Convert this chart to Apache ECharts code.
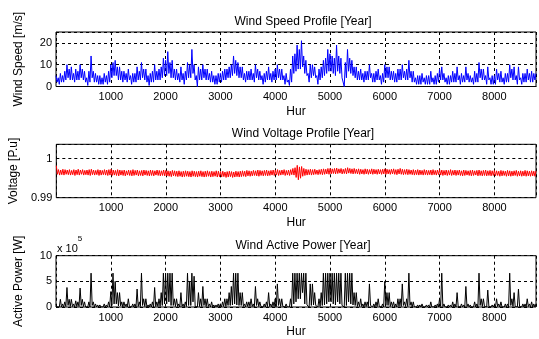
<!DOCTYPE html>
<html>
<head>
<meta charset="utf-8">
<script src="https://cdn.jsdelivr.net/npm/echarts@6/dist/echarts.min.js"></script>
<style>
  html, body { margin: 0; padding: 0; background: #fff; }
  #chart { width: 539px; height: 339px; }
</style>
</head>
<body>
<div id="chart"></div>
<script>
// envelope: one high and one low value per 40-hour bin, 0..8760 h
const STEP = 40;

const speedHigh = [
  5,4,6,5,7,10,8,9,6,8,7,10,8,7,4,7,14,7,6,5,5,4,6,5,7,
  10,11,12,9,9,7,7,6,8,5,6,6,9,7,11,8,8,5,6,7,10,7,8,9,13,
  12,16,11,12,8,8,6,9,6,7,11,10,17,10,5,9,8,10,8,8,6,7,5,5,6,
  6,7,8,8,9,10,14,12,11,9,9,6,7,7,8,6,10,8,7,5,6,7,9,6,7,
  8,10,8,8,5,6,3,8,14,15,19,17,21,14,12,6,10,10,9,5,8,9,12,13,17,
  15,14,13,19,14,13,4,11,17,13,12,9,9,7,8,6,7,7,10,6,6,7,8,5,6,
  10,9,9,7,7,6,8,8,10,7,8,12,7,7,4,5,5,6,4,5,5,7,4,5,6,
  8,9,6,4,5,5,7,6,9,5,6,5,9,6,5,4,7,6,11,8,8,5,9,4,5,
  5,8,6,7,4,6,6,10,8,9,5,9,4,6,6,8,6,7,6,6
];
const speedLow = [
  2,1,2,2,3,4,3,3,2,3,3,4,3,2,0.5,2,4,2,2,1,1,1,2,1,2,
  4,5,5,3,3,2,3,2,3,1,2,2,3,3,4,3,2,0.5,2,2,3,3,3,4,5,
  5,6,4,4,3,3,2,3,1,3,4,4,6,3,0,3,3,4,3,3,2,2,1,1,2,
  2,3,3,4,4,5,6,5,4,4,3,2,3,3,3,2,4,3,3,1,2,3,3,2,3,
  3,4,3,3,1,2,0.5,2,6,7,8,8,9,6,5,2,4,5,4,1,3,4,5,6,7,
  7,6,5,7,6,4,0,4,7,6,5,4,3,3,3,2,3,3,4,2,2,3,3,1,2,
  4,4,3,3,2,2,3,3,4,3,3,4,2,2,1,1,1,2,1,1,1,2,1,1,2,
  3,3,2,1,1,2,2,2,3,1,2,2,3,2,2,1,2,2,4,3,3,1,3,1,1,
  1,3,2,2,1,2,2,4,3,3,1,3,1,2,2,3,2,2,3,3
];

const voltHigh = [
  0.9982,0.9972,0.9971,0.9973,0.9972,0.9971,0.9972,0.9970,0.9972,0.9971,0.9973,0.9971,0.9972,0.9970,0.9971,0.9972,0.9973,0.9971,0.9970,0.9972,0.9971,0.9970,0.9972,0.9971,0.9972,
  0.9973,0.9971,0.9970,0.9972,0.9971,0.9970,0.9971,0.9969,0.9971,0.9970,0.9972,0.9970,0.9971,0.9969,0.9970,0.9971,0.9970,0.9969,0.9971,0.9970,0.9969,0.9971,0.9970,0.9969,0.9971,
  0.9970,0.9969,0.9968,0.9970,0.9969,0.9968,0.9969,0.9967,0.9968,0.9969,0.9968,0.9967,0.9969,0.9968,0.9967,0.9968,0.9969,0.9967,0.9968,0.9969,0.9967,0.9968,0.9967,0.9969,0.9968,
  0.9967,0.9968,0.9966,0.9967,0.9968,0.9967,0.9966,0.9968,0.9967,0.9968,0.9969,0.9968,0.9970,0.9969,0.9968,0.9970,0.9969,0.9971,0.9970,0.9969,0.9970,0.9971,0.9969,0.9970,0.9971,
  0.9971,0.9972,0.9970,0.9971,0.9972,0.9970,0.9971,0.9972,0.9975,0.9977,0.9983,0.9979,0.9980,0.9975,0.9973,0.9972,0.9973,0.9972,0.9973,0.9971,0.9972,0.9973,0.9974,0.9973,0.9975,
  0.9975,0.9974,0.9975,0.9976,0.9974,0.9975,0.9973,0.9975,0.9977,0.9975,0.9974,0.9975,0.9973,0.9974,0.9973,0.9972,0.9974,0.9973,0.9972,0.9974,0.9973,0.9972,0.9973,0.9972,0.9973,
  0.9974,0.9973,0.9972,0.9973,0.9974,0.9972,0.9973,0.9975,0.9973,0.9972,0.9973,0.9972,0.9971,0.9972,0.9971,0.9972,0.9971,0.9970,0.9972,0.9971,0.9970,0.9971,0.9972,0.9970,0.9971,
  0.9972,0.9971,0.9970,0.9971,0.9970,0.9972,0.9970,0.9971,0.9970,0.9971,0.9969,0.9971,0.9970,0.9969,0.9970,0.9971,0.9969,0.9970,0.9971,0.9969,0.9970,0.9971,0.9969,0.9970,0.9969,
  0.9970,0.9969,0.9968,0.9970,0.9969,0.9968,0.9970,0.9969,0.9968,0.9969,0.9970,0.9968,0.9969,0.9968,0.9970,0.9969,0.9968,0.9969,0.9968,0.9969
];
const voltLow = [
  0.9960,0.9958,0.9959,0.9958,0.9960,0.9959,0.9958,0.9959,0.9957,0.9959,0.9958,0.9960,0.9958,0.9959,0.9958,0.9957,0.9959,0.9958,0.9959,0.9957,0.9958,0.9959,0.9958,0.9957,0.9958,
  0.9957,0.9958,0.9957,0.9956,0.9958,0.9957,0.9956,0.9958,0.9957,0.9956,0.9957,0.9958,0.9956,0.9957,0.9956,0.9958,0.9957,0.9956,0.9957,0.9956,0.9958,0.9957,0.9956,0.9957,0.9956,
  0.9956,0.9955,0.9954,0.9956,0.9955,0.9954,0.9955,0.9953,0.9954,0.9955,0.9954,0.9953,0.9955,0.9954,0.9953,0.9955,0.9954,0.9953,0.9954,0.9955,0.9953,0.9954,0.9955,0.9953,0.9954,
  0.9953,0.9954,0.9952,0.9953,0.9954,0.9952,0.9953,0.9954,0.9953,0.9954,0.9955,0.9954,0.9956,0.9955,0.9956,0.9957,0.9956,0.9955,0.9957,0.9956,0.9957,0.9956,0.9957,0.9958,0.9957,
  0.9958,0.9957,0.9958,0.9959,0.9957,0.9958,0.9957,0.9959,0.9958,0.9952,0.9946,0.9950,0.9955,0.9957,0.9958,0.9959,0.9958,0.9959,0.9960,0.9959,0.9960,0.9959,0.9960,0.9961,0.9960,
  0.9961,0.9962,0.9961,0.9962,0.9963,0.9961,0.9962,0.9961,0.9963,0.9962,0.9961,0.9962,0.9961,0.9960,0.9961,0.9960,0.9961,0.9960,0.9961,0.9960,0.9961,0.9960,0.9961,0.9960,0.9961,
  0.9960,0.9961,0.9960,0.9961,0.9960,0.9959,0.9961,0.9960,0.9959,0.9960,0.9959,0.9960,0.9959,0.9958,0.9959,0.9958,0.9959,0.9958,0.9959,0.9958,0.9959,0.9958,0.9959,0.9958,0.9959,
  0.9958,0.9957,0.9958,0.9957,0.9958,0.9957,0.9958,0.9957,0.9958,0.9957,0.9956,0.9957,0.9958,0.9957,0.9956,0.9957,0.9958,0.9956,0.9957,0.9956,0.9957,0.9956,0.9957,0.9956,0.9957,
  0.9956,0.9957,0.9955,0.9956,0.9957,0.9955,0.9956,0.9955,0.9956,0.9957,0.9955,0.9956,0.9955,0.9956,0.9955,0.9956,0.9955,0.9956,0.9955,0.9956
];

// active power in units of 1e5 W
const powerHigh = [
  0.5,0.3,1.5,0.6,1,3.8,1.5,1.5,0.6,1.2,1,3.7,1.5,1,0.2,1,6.6,1,0.6,0.4,0.4,0.3,0.6,0.4,1,
  3,6.6,5,2.8,2.8,1,1,0.6,1.6,0.4,0.6,0.6,3.5,1,6.6,1.6,1.6,0.4,0.6,1,3.8,1,1.6,2.8,6.6,
  6.6,6.6,6.6,6.6,1.6,1.6,0.6,2.8,0.6,1,6.6,5,6.6,6,0.4,2.8,1.6,4,1.6,1.6,0.6,1,0.4,0.4,0.6,
  0.6,1,1.6,1.6,2.8,4,6.6,6.6,6.6,2.8,2.8,0.6,1,1,1.6,0.6,4,1.6,1,0.4,0.6,1,2.8,0.6,1,
  1.6,4.5,1.6,1.6,0.4,0.6,0.1,1.6,6.6,6.6,6.6,6.6,6.6,6.6,6.6,0.6,4.5,4.5,2.8,0.4,1.6,2.8,6.6,6.6,6.6,
  6.6,6.6,6.6,6.6,6.6,6.6,0.3,6.6,6.6,6.6,6.6,2.8,2.8,1,1.6,0.6,1,1,4.5,0.6,0.6,1,1.6,0.4,0.6,
  5,2.8,2.8,1,1,0.6,1.6,1.6,4.5,1,1.6,6.6,1,1,0.3,0.4,0.4,0.6,0.3,0.4,0.4,1,0.3,0.4,0.6,
  1.6,6.6,0.6,0.3,0.4,0.4,1,0.6,2.8,0.4,0.6,0.4,4,0.6,0.4,0.3,1,0.6,6.6,1.6,1.6,0.4,3.3,0.3,0.4,
  0.4,1.6,0.6,1,0.3,0.6,0.6,6.6,1.6,2.8,0.4,3.5,0.3,0.6,0.6,1.6,0.6,1,0.6,0.6
];
const powerLow = [
  0,0,0,0,0.1,0.3,0.1,0.1,0,0.1,0.1,0.3,0.1,0,0,0,0.3,0,0,0,0,0,0,0,0,
  0.3,0.6,0.6,0.2,0.2,0,0.1,0,0.1,0,0,0,0.1,0.1,0.3,0.1,0,0,0,0,0.1,0.1,0.1,0.3,0.6,
  0.6,1,0.3,0.3,0.1,0.1,0,0.1,0,0.1,0.3,0.3,1,0.1,0,0.1,0.1,0.3,0.1,0.1,0,0,0,0,0,
  0,0.1,0.1,0.3,0.3,0.4,0.6,0.4,0.3,0.3,0.1,0,0.1,0.1,0.1,0,0.3,0.1,0.1,0,0,0.1,0.1,0,0.1,
  0.1,0.3,0.1,0.1,0,0,0,0,0.6,1,1.6,1.6,2.8,0.6,0.4,0,0.3,0.4,0.3,0,0.1,0.3,0.4,0.6,1,
  1,0.6,0.4,1,0.6,0.3,0,0.3,1,0.6,0.4,0.3,0.1,0.1,0.1,0,0.1,0.1,0.3,0,0,0.1,0.1,0,0,
  0.3,0.3,0.1,0.1,0,0,0.1,0.1,0.3,0.1,0.1,0.3,0,0,0,0,0,0,0,0,0,0,0,0,0,
  0.1,0.1,0,0,0,0,0,0,0.1,0,0,0,0.1,0,0,0,0,0,0.3,0.1,0.1,0,0.1,0,0,
  0,0.1,0,0,0,0,0,0.3,0.1,0.1,0,0.1,0,0,0,0.1,0,0,0,0
];

const titles = ['Wind Speed Profile [Year]', 'Wind Voltage Profile [Year]', 'Wind Active Power [Year]'];
const yNames = ['Wind Speed [m/s]', 'Voltage [P.u]', 'Active Power [W]'];
const xName = 'Hur';

const FONT = 'Liberation Sans, Arial, sans-serif';
const X_MAX = 8760;

// interleave high/low of each bin into one line, as the hourly trace looks at this width
function envelope(hi, lo) {
  const out = [];
  hi.forEach((h, i) => {
    out.push([i * STEP, h]);
    if (i * STEP + STEP / 2 <= X_MAX) out.push([i * STEP + STEP / 2, lo[i]]);
  });
  return out;
}

const chart = echarts.init(document.getElementById('chart'));

const grids = [
  { left: 56, top: 32, width: 484, height: 54.5 },
  { left: 56, top: 144.3, width: 484, height: 53.4 },
  { left: 56, top: 255.7, width: 484, height: 54 }
];

const dash = { color: '#000', type: [3, 3], width: 1 };

function xAxis(i) {
  return {
    type: 'value', gridIndex: i, min: 0, max: X_MAX, interval: 1000,
    name: xName, nameLocation: 'middle', nameGap: 19,
    nameTextStyle: { color: '#000', fontSize: 12, fontFamily: FONT },
    axisLine: { show: false },
    axisTick: { show: false },
    axisLabel: {
      color: '#000', fontSize: 11, fontFamily: FONT, margin: 5,
      formatter: v => (v > 0 && v % 1000 === 0) ? String(v) : ''
    },
    splitLine: { show: true, lineStyle: dash }
  };
}

function yAxis(i, min, max, interval, fmt) {
  return {
    type: 'value', gridIndex: i, min: min, max: max, interval: interval,
    name: yNames[i], nameLocation: 'middle', nameGap: 31,
    nameTextStyle: { color: '#000', fontSize: 12, fontFamily: FONT },
    axisLine: { show: false },
    axisTick: { show: false },
    axisLabel: { color: '#000', fontSize: 11, fontFamily: FONT, margin: 4, formatter: fmt },
    splitLine: { show: true, lineStyle: dash }
  };
}

const option = {
  backgroundColor: '#fff',
  animation: false,
  title: titles.map((t, i) => ({
    text: t, left: 298, top: [11, 123, 235][i], textAlign: 'center',
    textStyle: { color: '#000', fontSize: 12, fontWeight: 'normal', fontFamily: FONT }
  })),
  grid: grids.map(g => Object.assign({ show: true, borderColor: '#000', borderWidth: 1, backgroundColor: '#fff' }, g)),
  xAxis: [xAxis(0), xAxis(1), xAxis(2)],
  yAxis: [
    yAxis(0, 0, 25, 10, v => (v % 10 === 0) ? String(v) : ''),
    yAxis(1, 0.99, 1.0037, 0.01, v => Math.abs(v - 0.99) < 1e-6 ? '0.99' : (Math.abs(v - 1) < 1e-6 ? '1' : '')),
    yAxis(2, 0, 10, 5, v => (v % 5 === 0) ? String(v) : '')
  ],
  graphic: [{
    type: 'text', left: 57, top: 235,
    style: {
      text: '{a|x 10}{b|5}',
      rich: {
        a: { fontSize: 11, fontFamily: FONT, fill: '#000', padding: [8, 0, 0, 0] },
        b: { fontSize: 8, fontFamily: FONT, fill: '#000', verticalAlign: 'top' }
      }
    }
  }],
  series: [
    { type: 'line', xAxisIndex: 0, yAxisIndex: 0, data: envelope(speedHigh, speedLow), symbol: 'none',
      lineStyle: { color: '#0000ff', width: 1 }, clip: true },
    { type: 'line', xAxisIndex: 1, yAxisIndex: 1, data: envelope(voltHigh, voltLow), symbol: 'none',
      lineStyle: { color: '#ff0000', width: 1 }, clip: true },
    { type: 'line', xAxisIndex: 2, yAxisIndex: 2, data: envelope(powerHigh, powerLow), symbol: 'none',
      lineStyle: { color: '#000', width: 1 }, clip: true }
  ]
};

chart.setOption(option);
</script>
</body>
</html>
